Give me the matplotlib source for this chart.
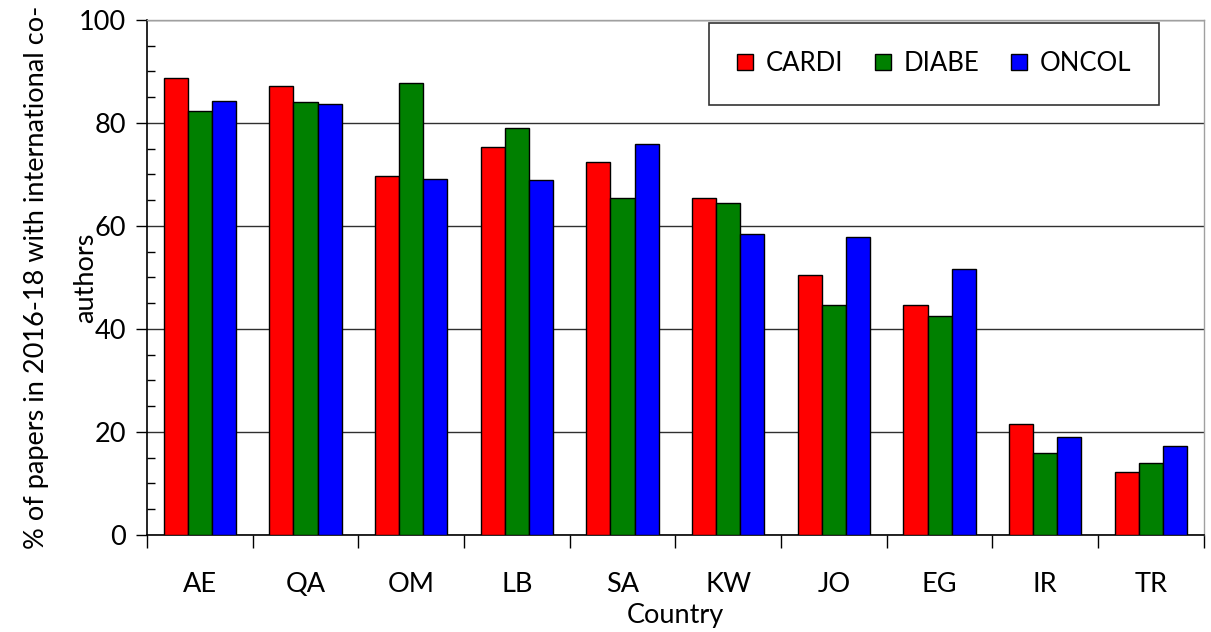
import numpy as np
import matplotlib
matplotlib.use("Agg")
import matplotlib.pyplot as plt
from matplotlib.ticker import MultipleLocator, FixedLocator, NullFormatter

plt.rcParams["font.family"] = ["Lato", "DejaVu Sans"]

countries = ["AE", "QA", "OM", "LB", "SA", "KW", "JO", "EG", "IR", "TR"]
cardi = [88.7, 87.2, 69.7, 75.3, 72.4, 65.4, 50.5, 44.7, 21.6, 12.3]
diabe = [82.3, 84.0, 87.8, 79.1, 65.4, 64.5, 44.7, 42.6, 15.9, 14.0]
oncol = [84.3, 83.7, 69.2, 68.9, 75.9, 58.4, 57.9, 51.7, 19.0, 17.2]

series = [("CARDI", cardi, "#ff0000"), ("DIABE", diabe, "#008000"), ("ONCOL", oncol, "#0000ff")]

fs = 19.5
fig = plt.figure(figsize=(12.11, 6.32), dpi=100)
ax = fig.add_axes([0.1214, 0.1535, 0.994 - 0.1214, 0.9684 - 0.1535])

x = np.arange(len(countries)) + 0.5
w = 0.228
for i, (name, vals, color) in enumerate(series):
    ax.bar(x + (i - 1) * w, vals, width=w, color=color, edgecolor="black",
           linewidth=1.0, label=name, zorder=3)

ax.set_xlim(0, len(countries))
ax.set_ylim(0, 100)

ax.yaxis.set_major_locator(MultipleLocator(20))
ax.yaxis.set_minor_locator(MultipleLocator(5))
ax.grid(axis="y", which="major", color="#303030", linewidth=1.0, zorder=1)
ax.tick_params(axis="y", which="major", direction="out", length=8, width=1,
               labelsize=fs, pad=7)
ax.tick_params(axis="y", which="minor", direction="in", length=6, width=1)

ax.xaxis.set_major_locator(FixedLocator(np.arange(len(countries) + 1)))
ax.xaxis.set_major_formatter(NullFormatter())
ax.xaxis.set_minor_locator(FixedLocator(x))
ax.set_xticklabels(countries, minor=True)
ax.tick_params(axis="x", which="major", direction="out", length=9, width=1)
ax.tick_params(axis="x", which="minor", length=0, labelsize=fs, pad=27)

for side in ["left", "bottom"]:
    ax.spines[side].set_color("black")
    ax.spines[side].set_linewidth(1.2)
for side in ["top", "right"]:
    ax.spines[side].set_color("#a0a0a0")
    ax.spines[side].set_linewidth(1.0)

ax.set_xlabel("Country", fontsize=fs, labelpad=4)

# y label in two lines, placed separately so the short second line sits near the axis
ax.text(-0.105, 0.5, "% of papers in 2016-18 with international co-", transform=ax.transAxes,
        rotation=90, ha="center", va="center", fontsize=fs)
ax.text(-0.058, 0.5, "authors", transform=ax.transAxes,
        rotation=90, ha="center", va="center", fontsize=fs)

leg = ax.legend(loc="upper right", bbox_to_anchor=(0.958, 0.994), ncol=3, fontsize=18.5,
                frameon=True, fancybox=False, edgecolor="black", borderpad=1.1,
                handlelength=0.6, handleheight=0.6, handletextpad=0.5,
                columnspacing=1.25, borderaxespad=0)
leg.get_frame().set_linewidth(1.2)
leg.set_zorder(5)

fig.savefig("out.png", dpi=100, facecolor="white")
